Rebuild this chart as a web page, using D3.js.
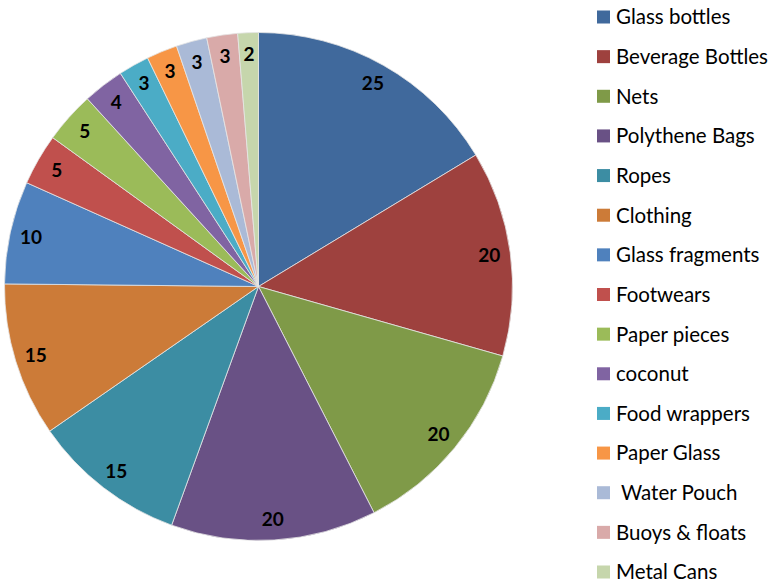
<!DOCTYPE html>
<html>
<head>
<meta charset="utf-8">
<script src="https://cdn.jsdelivr.net/npm/d3@7"></script>
<style>
  html, body { margin: 0; padding: 0; background: #fff; }
  svg { display: block; }
</style>
</head>
<body>
<svg id="chart" width="774" height="583"></svg>
<script>
// Beach litter composition
const categories = [
  "Glass bottles", "Beverage Bottles", "Nets", "Polythene Bags", "Ropes",
  "Clothing", "Glass fragments", "Footwears", "Paper pieces", "coconut",
  "Food wrappers", "Paper Glass", " Water Pouch", "Buoys & floats", "Metal Cans"
];
const values = [25, 20, 20, 20, 15, 15, 10, 5, 5, 4, 3, 3, 3, 3, 2];
const colors = [
  "#40699c", "#9e413e", "#7f9a48", "#695185", "#3c8da3",
  "#cc7b38", "#4f81bd", "#c0504d", "#9bbb59", "#8064a2",
  "#4bacc6", "#f79646", "#aabad7", "#d9aaa9", "#c6d6ac"
];

const data = categories.map((c, i) => ({ name: c, value: values[i], color: colors[i] }));

const svg = d3.select("#chart");
const cx = 258.5, cy = 286.5, r = 254;

const pie = d3.pie().value(d => d.value).sort(null);
const arc = d3.arc().innerRadius(0).outerRadius(r);
const labelR = r * 0.917;
const labelArc = d3.arc().innerRadius(labelR).outerRadius(labelR);

const g = svg.append("g").attr("transform", `translate(${cx},${cy})`);
const arcs = pie(data);

g.selectAll("path.slice")
  .data(arcs)
  .enter().append("path")
  .attr("class", "slice")
  .attr("d", arc)
  .attr("fill", d => d.data.color)
  .attr("stroke", "#e6e6e6")
  .attr("stroke-width", 0.8);

g.selectAll("text.val")
  .data(arcs)
  .enter().append("text")
  .attr("class", "val")
  .attr("transform", d => `translate(${labelArc.centroid(d)})`)
  .attr("text-anchor", "middle")
  .attr("dy", "0.36em")
  .style("font-family", "Lato, 'Open Sans', sans-serif")
  .style("font-weight", "bold")
  .style("font-size", "19px")
  .attr("fill", "#000")
  .text(d => d.data.value);

// Legend
const legend = svg.append("g");
const ly = d3.scalePoint().domain(categories).range([17, 572]);

const items = legend.selectAll("g.item")
  .data(data)
  .enter().append("g")
  .attr("class", "item")
  .attr("transform", d => `translate(597,${ly(d.name)})`);

items.append("rect")
  .attr("x", 0).attr("y", -6.5)
  .attr("width", 13).attr("height", 13)
  .attr("fill", d => d.color);

items.append("text")
  .attr("x", 19)
  .attr("dy", "0.36em")
  .style("font-family", "Lato, 'Open Sans', sans-serif")
  .style("font-size", "20.5px")
  .style("white-space", "pre")
  .attr("fill", "#000")
  .text(d => d.name);
</script>
</body>
</html>
